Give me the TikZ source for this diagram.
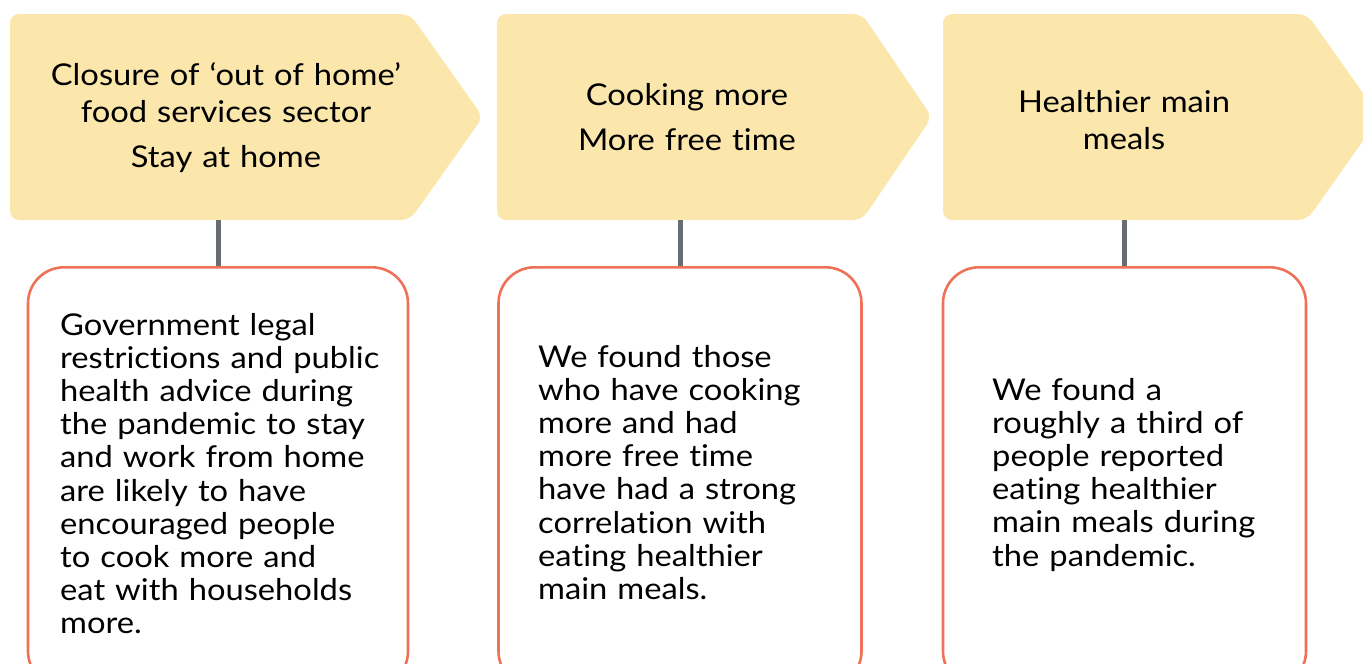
\documentclass[tikz,border=0pt]{standalone}
\usepackage{fontspec}
\setmainfont{Lato}[FakeStretch=1.09, Ligatures=NoCommon]
\definecolor{arrowfill}{HTML}{FBE6AC}
\definecolor{boxline}{HTML}{EE7257}
\definecolor{connline}{HTML}{676D73}
\tikzset{
  arrowshape/.style={fill=arrowfill, draw=none, rounded corners=9pt},
  infobox/.style={draw=boxline, line width=2.6pt, rounded corners=36pt, fill=white, inner sep=0pt},
  conn/.style={draw=connline, line width=5pt},
  headtext/.style={font=\fontsize{30}{37}\selectfont, align=center, text width=440pt, anchor=base, inner sep=0pt},
  bodytext/.style={font=\fontsize{30}{33.2}\selectfont, align=left, text width=340pt, anchor=base west, inner sep=0pt},
}
\begin{document}
\begin{tikzpicture}[x=1pt,y=-1pt]
\useasboundingbox (0,0) rectangle (1363,664);
\clip (0,0) rectangle (1363,664);
% arrow shapes
\path[arrowshape] (10,14) -- (410,14) -- (483,117) -- (410,220) -- (10,220) -- cycle;
\path[arrowshape] (497,14) -- (862,14) -- (932,117) -- (862,220) -- (497,220) -- cycle;
\path[arrowshape] (943,14) -- (1307,14) -- (1380,117) -- (1307,220) -- (943,220) -- cycle;
% arrow anchors (body extents)
\node[minimum width=400pt, minimum height=206pt, inner sep=0pt] (a1) at (210,117) {};
\node[minimum width=365pt, minimum height=206pt, inner sep=0pt] (a2) at (679.5,117) {};
\node[minimum width=364pt, minimum height=206pt, inner sep=0pt] (a3) at (1125,117) {};
% header texts
\node[headtext] (h1) at (226,85) {Closure of ‘out of home’\\ food services sector\\[8pt] Stay at home};
\node[headtext] (h2) at (687,105) {Cooking more\\[8pt] More free time};
\node[headtext] (h3) at (1124,112) {Healthier main\\ meals};
% boxes
\node[infobox, minimum width=380pt, minimum height=420pt, anchor=north] (b1) at (218,266) {};
\node[infobox, minimum width=363pt, minimum height=420pt, anchor=north] (b2) at (680,266) {};
\node[infobox, minimum width=363pt, minimum height=420pt, anchor=north] (b3) at (1124.5,266) {};
% connectors
\draw[conn] (b1.north) -- (b1.north |- a1.south);
\draw[conn] (b2.north) -- (b2.north |- a2.south);
\draw[conn] (b3.north) -- (b3.north |- a3.south);
% body texts
\node[bodytext] (t1) at (60,335) {Government legal\\ restrictions and public\\ health advice during\\ the pandemic to stay\\ and work from home\\ are likely to have\\ encouraged people\\ to cook more and\\ eat with households\\ more.};
\node[bodytext] (t2) at (538,367) {We found those\\ who have cooking\\ more and had\\ more free time\\ have had a strong\\ correlation with\\ eating healthier\\ main meals.};
\node[bodytext] (t3) at (992,400) {We found a\\ roughly a third of\\ people reported\\ eating healthier\\ main meals during\\ the pandemic.};
\end{tikzpicture}
\end{document}
